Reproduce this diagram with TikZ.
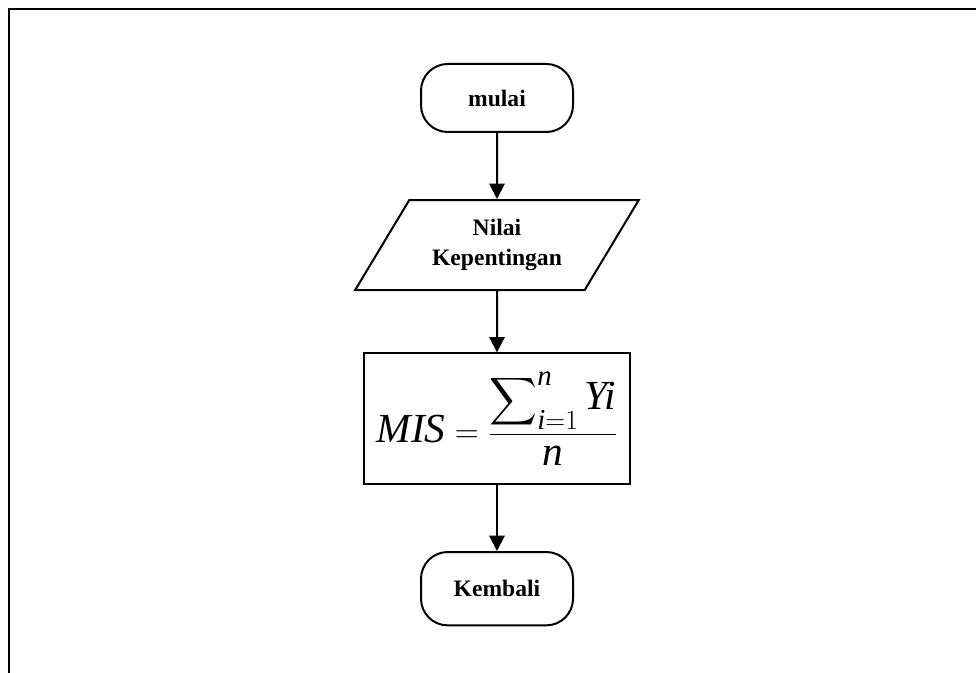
\documentclass[tikz,border=0pt]{standalone}
\usepackage{amsmath}
\usepackage{fontspec}
\setmainfont{Liberation Serif}
\usetikzlibrary{arrows.meta, shapes.geometric, positioning}

\begin{document}
\begin{tikzpicture}[x=0.75pt,y=-0.75pt,->,>={Triangle[length=11.5pt,width=11.5pt]},
 line width=1.5pt,node distance=49.5pt,
 terminal/.style={draw,rounded corners=20pt,minimum width=114pt,minimum height=51pt,
   font=\fontsize{17.7}{23}\selectfont\bfseries},
 io/.style={draw,trapezium,trapezium left angle=55,trapezium right angle=125,
   trapezium stretches=true,minimum width=213pt,minimum height=67.5pt,align=center,
   font=\fontsize{17.7}{23}\selectfont\bfseries},
 process/.style={draw,minimum width=200pt,minimum height=98pt,
   font=\fontsize{31}{36}\selectfont}]
   \useasboundingbox (0,0) rectangle (976,673);
   \draw[-,line width=2.2pt] (9,673) -- (9,9) -- (976,9);

   \node[terminal] (mulai) at (497,98) {mulai};
   \node[io] (nilai) [below=of mulai] {Nilai\\Kepentingan};
   \node[process] (mis) [below=46pt of nilai]
     {$\textit{MIS} = \dfrac{\displaystyle\sum\nolimits_{\textit{i}=1}^{\textit{n}}\textit{Yi}}{\textit{n}}$};
   \node[terminal,minimum height=55pt] (kembali) [below=of mis] {Kembali};

  \foreach \s/\t in {mulai/nilai, nilai/mis, mis/kembali} {
   \draw (\s) -- (\t);}
\end{tikzpicture}
\end{document}
